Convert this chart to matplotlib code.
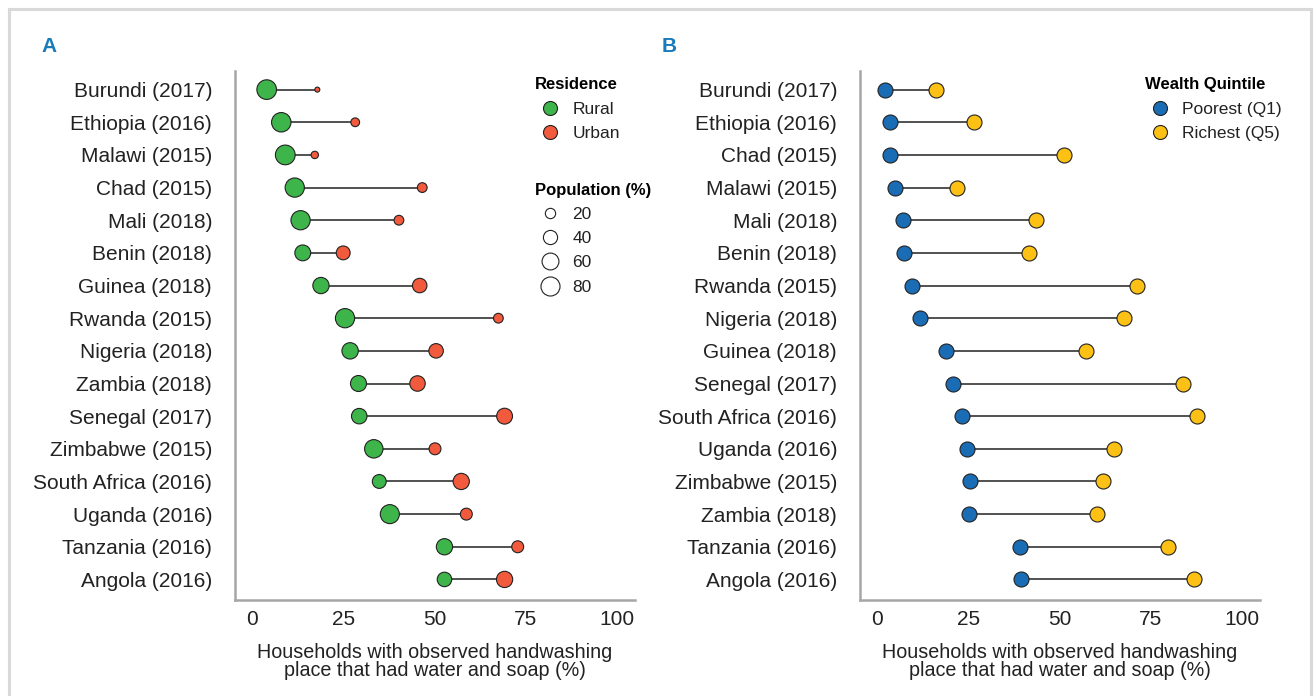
import numpy as np
import matplotlib.pyplot as plt
from matplotlib.lines import Line2D
from matplotlib.patches import Rectangle

plt.rcParams["font.family"] = ["Liberation Sans", "DejaVu Sans"]

# ---------------- data ----------------
countries_a = ["Burundi (2017)", "Ethiopia (2016)", "Malawi (2015)", "Chad (2015)",
               "Mali (2018)", "Benin (2018)", "Guinea (2018)", "Rwanda (2015)",
               "Nigeria (2018)", "Zambia (2018)", "Senegal (2017)", "Zimbabwe (2015)",
               "South Africa (2016)", "Uganda (2016)", "Tanzania (2016)", "Angola (2016)"]
rural = [3.9, 7.9, 9.0, 11.6, 13.2, 13.8, 18.8, 25.4, 26.8, 29.1, 29.3, 33.3, 34.8, 37.7, 52.7, 52.7]
urban = [17.8, 28.2, 17.1, 46.6, 40.2, 24.9, 45.9, 67.5, 50.4, 45.3, 69.2, 50.1, 57.3, 58.7, 72.8, 69.2]
rural_pop = [86, 84, 87, 82, 82, 52, 55, 82, 56, 53, 49, 74, 38, 80, 55, 42]
urban_pop = [10, 15, 12, 18, 18, 38, 42, 18, 42, 49, 52, 27, 55, 27, 27, 55]

countries_b = ["Burundi (2017)", "Ethiopia (2016)", "Chad (2015)", "Malawi (2015)",
               "Mali (2018)", "Benin (2018)", "Rwanda (2015)", "Nigeria (2018)",
               "Guinea (2018)", "Senegal (2017)", "South Africa (2016)", "Uganda (2016)",
               "Zimbabwe (2015)", "Zambia (2018)", "Tanzania (2016)", "Angola (2016)"]
poorest = [2.1, 3.5, 3.5, 4.7, 7.0, 7.3, 9.6, 11.8, 18.7, 20.6, 23.3, 24.6, 25.3, 25.2, 39.2, 39.3]
richest = [16.1, 26.5, 51.2, 21.8, 43.5, 41.6, 71.2, 67.8, 57.1, 83.8, 87.8, 65.0, 61.9, 60.2, 79.8, 86.8]

pop_breaks = [20, 40, 60, 80]
x_ticks = [0, 25, 50, 75, 100]
xlabel = "Households with observed handwashing\nplace that had water and soap (%)"

GREEN, RED = "#3db54a", "#f15a3c"
BLUE, YELLOW = "#1a6db5", "#fcc114"
PANEL_BLUE = "#1a7bb9"
SPINE = "#a6a6a6"
INK = "#222222"

W, H = 1315, 696
PX = 72.0 / 100  # points per pixel
LEG_FS = 12.5


def diam_px(p):
    # area-type size scale, calibrated on the legend
    return 5 + 15 * np.sqrt((np.asarray(p, float) - 10) / 80)


def setup(ax, labels):
    n = len(labels)
    ax.set_ylim(-0.63, n - 1 + 0.57)
    ax.set_xlim(-4.8, 105)
    ax.set_yticks(range(n))
    ax.set_yticklabels(labels[::-1], fontsize=15, color=INK)
    ax.set_xticks(x_ticks)
    ax.set_xticklabels([str(t) for t in x_ticks], fontsize=15, color=INK)
    ax.tick_params(length=0)
    ax.tick_params(axis="y", pad=16.5)
    ax.tick_params(axis="x", pad=7)
    for s in ["top", "right"]:
        ax.spines[s].set_visible(False)
    for s in ["left", "bottom"]:
        ax.spines[s].set_color(SPINE)
        ax.spines[s].set_linewidth(1.8)
    ax.set_xlabel(xlabel, fontsize=14.2, color=INK, linespacing=0.95, labelpad=10)


def make_legend(ax, handles, labels, title, x, y, spacing):
    leg = ax.legend(handles, labels, title=title, loc="upper left",
                    bbox_to_anchor=(x / W, 1 - y / H), bbox_transform=fig.transFigure,
                    frameon=False, fontsize=LEG_FS, title_fontsize=12, alignment="left",
                    handletextpad=0.4, labelspacing=spacing, borderaxespad=0,
                    handlelength=1.75)
    leg.get_title().set_fontweight("bold")
    for t in leg.get_texts():
        t.set_color(INK)
    return leg


def dot(face, d):
    return Line2D([], [], ls="", marker="o", markersize=d * PX, markerfacecolor=face,
                  markeredgecolor=INK, markeredgewidth=0.8)


fig = plt.figure(figsize=(W / 100, H / 100), dpi=100)
fig.patches.append(Rectangle((9 / W, -0.1), 1302 / W, 1.1 - 9 / H, transform=fig.transFigure,
                             fill=False, edgecolor="#d9d9d9", linewidth=2.2, zorder=-1))

# ---------------- panel A ----------------
axA = fig.add_axes([235 / W, 1 - 600 / H, 400 / W, 529 / H])
ya = np.arange(len(countries_a))[::-1]
axA.hlines(ya, rural, urban, color=INK, linewidth=1.1, zorder=1)
axA.scatter(rural, ya, s=(diam_px(rural_pop) * PX) ** 2, color=GREEN,
            edgecolor=INK, linewidth=0.8, zorder=3)
axA.scatter(urban, ya, s=(diam_px(urban_pop) * PX) ** 2, color=RED,
            edgecolor=INK, linewidth=0.8, zorder=3)
setup(axA, countries_a)

leg1 = make_legend(axA, [dot(GREEN, 14), dot(RED, 14)], ["Rural", "Urban"], "Residence",
                   528, 70, 0.55)
axA.add_artist(leg1)
make_legend(axA, [dot("white", diam_px(p)) for p in pop_breaks], [str(p) for p in pop_breaks],
            "Population (%)", 528, 176, 0.52)

# ---------------- panel B ----------------
axB = fig.add_axes([860 / W, 1 - 600 / H, 400 / W, 529 / H])
yb = np.arange(len(countries_b))[::-1]
axB.hlines(yb, poorest, richest, color=INK, linewidth=1.1, zorder=1)
axB.scatter(poorest, yb, s=(15 * PX) ** 2, color=BLUE, edgecolor=INK, linewidth=0.8, zorder=3)
axB.scatter(richest, yb, s=(15 * PX) ** 2, color=YELLOW, edgecolor=INK, linewidth=0.8, zorder=3)
setup(axB, countries_b)

make_legend(axB, [dot(BLUE, 14), dot(YELLOW, 14)], ["Poorest (Q1)", "Richest (Q5)"],
            "Wealth Quintile", 1138, 70, 0.55)

fig.text(41 / W, 1 - 47 / H, "A", fontsize=15, fontweight="bold", color=PANEL_BLUE, va="center")
fig.text(662 / W, 1 - 47 / H, "B", fontsize=15, fontweight="bold", color=PANEL_BLUE, va="center")

fig.savefig("out.png", dpi=100, facecolor="white")
